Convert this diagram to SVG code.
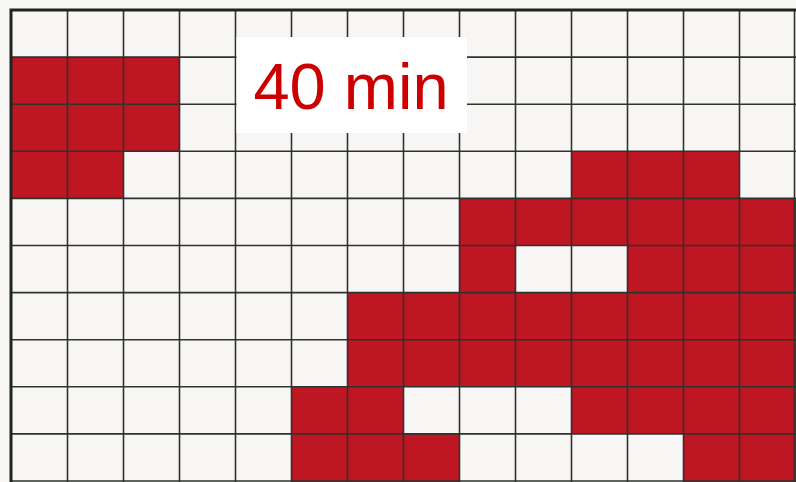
<svg xmlns="http://www.w3.org/2000/svg" width="796" height="482" viewBox="0 0 796 482">
<style>
.r{fill:#be1622}
.g{stroke:#2e332e;stroke-width:1.6;fill:none}
.b{stroke:#1c261c;stroke-width:3;fill:none}
.t{font-family:"Liberation Sans",Arial,sans-serif;font-size:65px;fill:#cc0000}
</style>
<rect width="796" height="482" fill="#f8f5f5"/>
<g id="cells">
<rect class="r" x="11.5" y="57.1" width="168" height="94.2"/>
<rect class="r" x="11.5" y="151.3" width="112" height="47.1"/>
<rect class="r" x="571.5" y="151.3" width="168" height="47.1"/>
<rect class="r" x="459.5" y="198.4" width="336.5" height="47.1"/>
<rect class="r" x="459.5" y="245.5" width="56" height="47.1"/>
<rect class="r" x="627.5" y="245.5" width="168.5" height="47.1"/>
<rect class="r" x="347.5" y="292.6" width="448.5" height="94.2"/>
<rect class="r" x="291.5" y="386.8" width="112" height="47.1"/>
<rect class="r" x="571.5" y="386.8" width="224.5" height="47.1"/>
<rect class="r" x="291.5" y="433.9" width="168" height="48.1"/>
<rect class="r" x="683.5" y="433.9" width="112.5" height="48.1"/>
</g>
<g id="grid" class="g">
<path d="M67.5 10V482M123.5 10V482M179.5 10V482M235.5 10V482M291.5 10V482M347.5 10V482M403.5 10V482M459.5 10V482M515.5 10V482M571.5 10V482M627.5 10V482M683.5 10V482M739.5 10V482M794.5 10V482"/>
<path d="M11 57.1H796M11 104.2H796M11 151.3H796M11 198.4H796M11 245.5H796M11 292.6H796M11 339.7H796M11 386.8H796M11 433.9H796M11 481H796"/>
</g>
<path class="b" d="M11 482V10H796"/>
<g id="label">
<rect x="236.5" y="37" width="230.5" height="96" fill="#ffffff"/>
<text class="t" x="351" y="109" text-anchor="middle">40 min</text>
</g>
</svg>
